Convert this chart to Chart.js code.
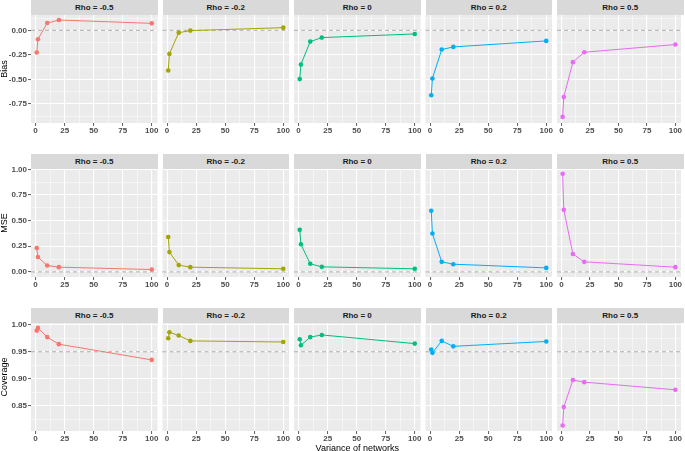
<!DOCTYPE html>
<html>
<head>
<meta charset="utf-8">
<script src="https://cdn.jsdelivr.net/npm/chart.js@4.4.1/dist/chart.umd.min.js"></script>
<style>
  html, body { margin: 0; padding: 0; background: #ffffff; }
  #wrap { position: relative; width: 685px; height: 451px; overflow: hidden; }
  canvas { position: absolute; left: 0; top: 0; }
  .strip { position: absolute; background: #D9D9D9; color: #1A1A1A;
           font: bold 8px "Liberation Sans", Arial, sans-serif; text-align: center; }
</style>
</head>
<body>
<div id="wrap"></div>
<script>
// ---- data ----
const xValues = [1, 2, 10, 20, 100];
const rhoLabels = ['Rho = -0.5', 'Rho = -0.2', 'Rho = 0', 'Rho = 0.2', 'Rho = 0.5'];
const seriesColors = ['#F8766D', '#A3A500', '#00BF7D', '#00B0F6', '#E76BF3'];
const metricNames = ['Bias', 'MSE', 'Coverage'];
const xTitle = 'Variance of networks';

const biasValues = [
  [-0.226, -0.091, 0.074, 0.105, 0.071],
  [-0.409, -0.240, -0.024, -0.003, 0.027],
  [-0.497, -0.348, -0.115, -0.074, -0.037],
  [-0.662, -0.490, -0.196, -0.169, -0.108],
  [-0.882, -0.680, -0.324, -0.223, -0.145]
];
const mseValues = [
  [0.233, 0.144, 0.062, 0.046, 0.023],
  [0.341, 0.193, 0.066, 0.046, 0.030],
  [0.410, 0.269, 0.079, 0.049, 0.030],
  [0.597, 0.374, 0.098, 0.075, 0.039],
  [0.957, 0.607, 0.174, 0.098, 0.046]
];
const coverageValues = [
  [0.989, 0.994, 0.977, 0.964, 0.935],
  [0.975, 0.986, 0.980, 0.970, 0.968],
  [0.973, 0.962, 0.977, 0.981, 0.965],
  [0.954, 0.948, 0.970, 0.960, 0.969],
  [0.814, 0.848, 0.898, 0.894, 0.880]
];
const referenceValues = [0, 0, 0.95];

const xMajorTicks = [0, 25, 50, 75, 100];
const xMinorTicks = [12.5, 37.5, 62.5, 87.5];
const yMajorTicks = [
  [-0.75, -0.5, -0.25, 0],
  [0, 0.25, 0.5, 0.75, 1],
  [0.85, 0.9, 0.95, 1]
];
const yMinorTicks = [
  [-0.875, -0.625, -0.375, -0.125, 0.125],
  [0.125, 0.375, 0.625, 0.875],
  [0.825, 0.875, 0.925, 0.975]
];
const yRanges = [[-0.944, 0.156], [-0.05, 1.004], [0.804, 1.003]];
const xRange = [-3.95, 104.95];

// ---- layout ----
const allValues = [biasValues, mseValues, coverageValues];
const W = 685, H = 451;
const panelLefts = [31, 162.5, 294, 425.5, 557];
const panelW = 126.5;
const rowTops = [15, 169, 323];
const panelH = 108;
const stripH = 15;

const wrap = document.getElementById('wrap');
const FONT = '"Liberation Sans", Arial, sans-serif';

function isIn(list, v) { return list.some(t => Math.abs(t - v) < 1e-9); }

const panelBg = {
  id: 'panelBg',
  beforeDraw(chart) {
    const a = chart.chartArea, c = chart.ctx;
    c.save(); c.fillStyle = '#EBEBEB';
    c.fillRect(a.left, a.top, a.right - a.left, a.bottom - a.top);
    c.restore();
  }
};
const refLine = {
  id: 'refLine',
  beforeDatasetsDraw(chart, args, opts) {
    const a = chart.chartArea, c = chart.ctx;
    const y = chart.scales.y.getPixelForValue(opts.value);
    c.save(); c.strokeStyle = '#A3A3A3'; c.lineWidth = 0.9; c.setLineDash([4, 3]);
    c.beginPath(); c.moveTo(a.left, y); c.lineTo(a.right, y); c.stroke();
    c.restore();
  }
};

for (let r = 0; r < 3; r++) {
  for (let c = 0; c < 5; c++) {
    const left = panelLefts[c], top = rowTops[r];
    const strip = document.createElement('div');
    strip.className = 'strip';
    strip.style.left = left + 'px';
    strip.style.top = (top - stripH) + 'px';
    strip.style.width = panelW + 'px';
    strip.style.height = stripH + 'px';
    strip.style.lineHeight = stripH + 'px';
    strip.textContent = rhoLabels[c];
    wrap.appendChild(strip);

    const cv = document.createElement('canvas');
    cv.width = W; cv.height = H;
    cv.style.width = W + 'px'; cv.style.height = H + 'px';
    wrap.appendChild(cv);

    const yW = c === 0 ? 31 : 0;
    const withXTitle = (r === 2 && c === 2);
    const xH = withXTitle ? 20 : 14;
    const padding = {
      left: left - yW,
      right: W - (left + panelW),
      top: top,
      bottom: H - (top + panelH) - xH
    };
    const vals = allValues[r][c];
    const yMaj = yMajorTicks[r], yMin = yMinorTicks[r];

    new Chart(cv, {
      type: 'line',
      data: {
        datasets: [{
          data: xValues.map((x, i) => ({ x: x, y: vals[i] })),
          borderColor: seriesColors[c],
          backgroundColor: seriesColors[c],
          borderWidth: 1,
          pointRadius: 2.3,
          pointBorderWidth: 0,
          tension: 0
        }]
      },
      options: {
        responsive: false,
        animation: false,
        events: [],
        devicePixelRatio: 1,
        layout: { padding: padding },
        plugins: {
          legend: { display: false },
          tooltip: { enabled: false },
          refLine: { value: referenceValues[r] }
        },
        scales: {
          x: {
            type: 'linear',
            min: xRange[0], max: xRange[1],
            afterBuildTicks: s => { s.ticks = xMajorTicks.concat(xMinorTicks).sort((a, b) => a - b).map(v => ({ value: v })); },
            afterFit: s => { s.height = xH; },
            border: { display: false },
            grid: {
              color: '#FFFFFF',
              lineWidth: ctx => isIn(xMajorTicks, ctx.tick.value) ? 1.1 : 0.5,
              tickColor: ctx => isIn(xMajorTicks, ctx.tick.value) ? '#333333' : 'rgba(0,0,0,0)',
              tickWidth: 0.8,
              tickLength: 3,
              drawTicks: true
            },
            ticks: {
              autoSkip: false, maxRotation: 0, minRotation: 0, padding: 0,
              color: '#4D4D4D',
              font: { family: FONT, size: 8, weight: 'bold' },
              callback: v => isIn(xMajorTicks, v) ? String(v) : ''
            },
            title: {
              display: withXTitle,
              text: xTitle,
              color: '#000000',
              font: { family: FONT, size: 9, lineHeight: 0.6 },
              padding: { top: 0, bottom: 0 }
            }
          },
          y: {
            type: 'linear',
            min: yRanges[r][0], max: yRanges[r][1],
            afterBuildTicks: s => { s.ticks = yMaj.concat(yMin).sort((a, b) => a - b).map(v => ({ value: v })); },
            afterFit: s => { s.width = yW; },
            border: { display: false },
            grid: {
              color: '#FFFFFF',
              lineWidth: ctx => isIn(yMaj, ctx.tick.value) ? 1.1 : 0.5,
              tickColor: ctx => isIn(yMaj, ctx.tick.value) ? '#333333' : 'rgba(0,0,0,0)',
              tickWidth: 0.8,
              tickLength: 3,
              drawTicks: c === 0
            },
            ticks: {
              display: c === 0,
              autoSkip: false, padding: 1,
              color: '#4D4D4D',
              font: { family: FONT, size: 8, weight: 'bold' },
              callback: v => isIn(yMaj, v) ? v.toFixed(2) : ''
            },
            title: {
              display: c === 0,
              text: metricNames[r],
              color: '#000000',
              font: { family: FONT, size: 9, lineHeight: 1 },
              padding: { top: 0, bottom: 0 }
            }
          }
        }
      },
      plugins: [panelBg, refLine]
    });
  }
}
</script>
</body>
</html>
